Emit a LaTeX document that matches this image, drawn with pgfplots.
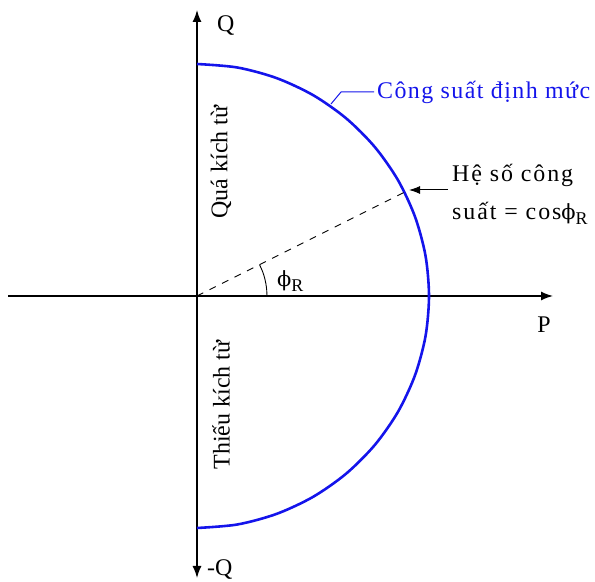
\documentclass[border=0pt]{standalone}
\usepackage{fontspec}
\setmainfont{Liberation Serif}
\newfontfamily\widefont[LetterSpace=8]{Liberation Serif}
\newfontfamily\bluefont[LetterSpace=6]{Liberation Serif}
\newfontfamily\phifont{DejaVu Serif}
\newcommand{\phiR}{{\phifont\fontsize{21}{24}\selectfont ϕ}\raisebox{-0.22em}{\fontsize{18}{20}\selectfont R}}
\usepackage{pgfplots}
\pgfplotsset{compat=1.18}
\usetikzlibrary{arrows.meta}
\definecolor{arcblue}{RGB}{20,20,235}
\begin{document}
\begin{tikzpicture}
\fontsize{24}{28}\selectfont
\begin{axis}[
  at={(0,0)}, anchor=south west,
  width=595bp, height=582bp, scale only axis,
  xmin=0, xmax=595, ymin=0, ymax=582,
  hide axis, clip=false,
]
% axes
\addplot[black, line width=1.4pt, -{Latex[length=12bp,width=9bp]}] coordinates {(8,286) (553,286)};
\addplot[black, line width=1.4pt, {Latex[length=12bp,width=9bp]}-{Latex[length=12bp,width=9bp]}] coordinates {(197,4) (197,572)};
% rated power semicircle
\addplot[arcblue, line width=2.6pt, smooth] coordinates {
(197,54) (237.3,57.5) (276.3,68.0) (313,85.1) (346.1,108.3) (374.7,136.9)
(397.9,170) (415,206.7) (425.5,245.7) (429,286) (425.5,326.3) (415,365.3)
(397.9,402) (374.7,435.1) (346.1,463.7) (313,486.9) (276.3,504) (237.3,514.5) (197,518)};
% dashed power factor line
\addplot[black, line width=0.9pt, dash pattern=on 7bp off 7bp] coordinates {(197,286) (405,390)};
% angle arc
\addplot[black, line width=0.9pt, smooth] coordinates {
(267,286) (266.7,292.1) (265.9,298.2) (264.6,304.1) (262.8,309.9) (259.6,317.2)};
% blue leader
\addplot[arcblue, line width=1pt] coordinates {(331,478) (341,490) (374,490)};
% black arrow to circle
\addplot[black, line width=1pt, -{Latex[length=11bp,width=8bp]}] coordinates {(448,392) (409,392)};

\node[anchor=west] at (axis cs:209,556) {Q};
\node[anchor=west] at (axis cs:199,12) {-Q};
\node[anchor=center] at (axis cs:544,257) {P};
\node[anchor=west, text=arcblue, inner sep=0pt] at (axis cs:377,490) {\bluefont Công suất định mức};
\node[anchor=west, inner sep=0pt] at (axis cs:452,407) {\widefont Hệ số công};
\node[anchor=west, inner sep=0pt] at (axis cs:452,369) {\widefont suất = cos\phiR};
\node[anchor=west, inner sep=0pt] at (axis cs:277,301) {\phiR};
\node[rotate=90] at (axis cs:221,420) {Quá kích từ};
\node[rotate=90] at (axis cs:221,177) {Thiếu kích từ};
\end{axis}
\pgfresetboundingbox
\path (0,0) rectangle (595bp,582bp);
\end{tikzpicture}
\end{document}
